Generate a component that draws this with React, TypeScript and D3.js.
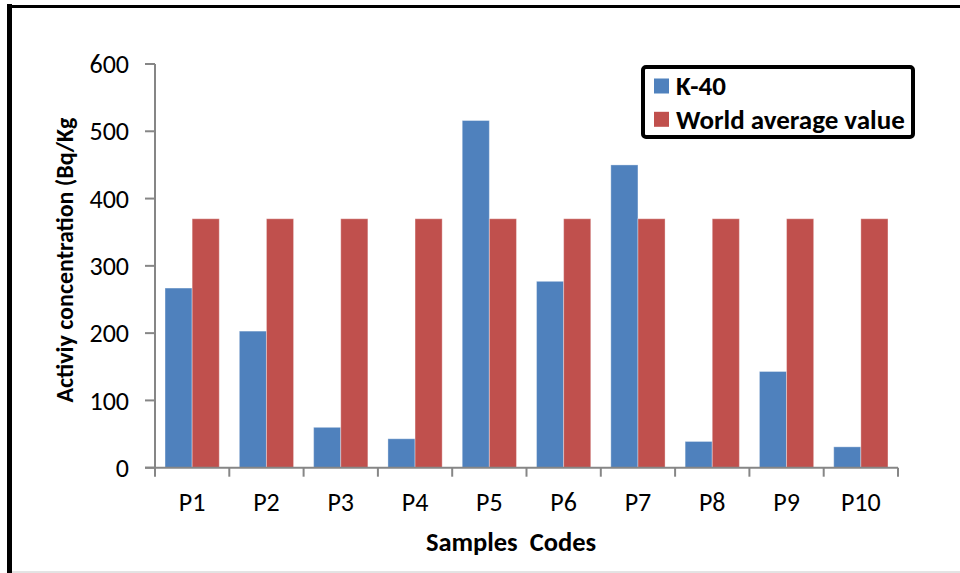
import React from "react";
import * as d3 from "d3";

const categories = ["P1", "P2", "P3", "P4", "P5", "P6", "P7", "P8", "P9", "P10"];
const k40Values = [267, 203, 60, 43, 516, 277, 450, 39, 143, 31];
const worldAverage = [370, 370, 370, 370, 370, 370, 370, 370, 370, 370];
const seriesNames = ["K-40", "World average value"];
const seriesColors = ["#4F81BD", "#C0504D"];
const yTicks = [0, 100, 200, 300, 400, 500, 600];

const W = 960;
const H = 573;
const FONT = "Carlito, Calibri, Lato, 'Open Sans', sans-serif";

export default function App() {
  const left = 155;
  const right = 898;
  const top = 64;
  const bottom = 467.7;

  const x = d3.scaleBand<string>().domain(categories).range([left, right]).paddingInner(0).paddingOuter(0);
  const inner = d3.scaleBand<number>().domain([0, 1]).range([0, x.bandwidth()]).paddingOuter(0.37).paddingInner(0);
  const y = d3.scaleLinear().domain([0, 600]).range([bottom, top]);
  const series = [k40Values, worldAverage];

  const tickAxis = "#868686";

  return (
    <svg width={W} height={H} style={{ position: "absolute", left: 0, top: 0, background: "#fff" }} fontFamily={FONT}>
      {/* outer frame */}
      <line x1={9.5} y1={4} x2={9.5} y2={H} stroke="#000" strokeWidth={5} />
      <line x1={7} y1={6.5} x2={W} y2={6.5} stroke="#000" strokeWidth={3} />
      <line x1={12} y1={572} x2={W} y2={572} stroke="#c8c8c8" strokeWidth={1} />

      {/* bars */}
      {series.map((vals, si) =>
        vals.map((v, i) => (
          <rect
            key={`${si}-${i}`}
            x={(x(categories[i]) as number) + (inner(si) as number)}
            y={y(v)}
            width={inner.bandwidth()}
            height={y(0) - y(v)}
            fill={seriesColors[si]}
            stroke="rgba(255,255,255,0.35)"
            strokeWidth={1}
          />
        ))
      )}

      {/* y axis */}
      <line x1={left} y1={top} x2={left} y2={bottom} stroke={tickAxis} strokeWidth={2} />
      {yTicks.map((t) => (
        <g key={t}>
          <line x1={left - 10} x2={left} y1={y(t)} y2={y(t)} stroke={tickAxis} strokeWidth={2} />
          <text x={129} y={y(t)} dy="0.35em" textAnchor="end" fontSize={26} fill="#000">
            {t}
          </text>
        </g>
      ))}

      {/* x axis */}
      <line x1={left - 10} x2={right} y1={bottom} y2={bottom} stroke={tickAxis} strokeWidth={2} />
      {[...categories.map((c) => x(c) as number), right].map((px, i) => (
        <line key={i} x1={px} x2={px} y1={bottom} y2={bottom + 9} stroke={tickAxis} strokeWidth={2} />
      ))}
      {categories.map((c) => (
        <text key={c} x={(x(c) as number) + x.bandwidth() / 2} y={502} dy="0.35em" textAnchor="middle" fontSize={26} fill="#000">
          {c}
        </text>
      ))}

      {/* axis titles */}
      <text x={511} y={542} dy="0.35em" textAnchor="middle" fontSize={26.5} fontWeight="bold" fill="#000" style={{ whiteSpace: "pre" }}>
        {"Samples  Codes"}
      </text>
      <text
        transform={`translate(65, 260) rotate(-90)`}
        dy="0.35em"
        textAnchor="middle"
        fontSize={24}
        fontWeight="bold"
        fill="#000"
      >
        Activiy concentration (Bq/Kg
      </text>

      {/* legend */}
      <rect x={643} y={67} width={270} height={70} rx={3} fill="#fff" stroke="#000" strokeWidth={4} />
      {seriesNames.map((name, i) => (
        <g key={name}>
          <rect x={654} y={78.5 + i * 33.3} width={15} height={15} fill={seriesColors[i]} />
          <text x={676} y={86 + i * 33.3} dy="0.35em" fontSize={27} fontWeight="bold" fill="#000">
            {name}
          </text>
        </g>
      ))}
    </svg>
  );
}
